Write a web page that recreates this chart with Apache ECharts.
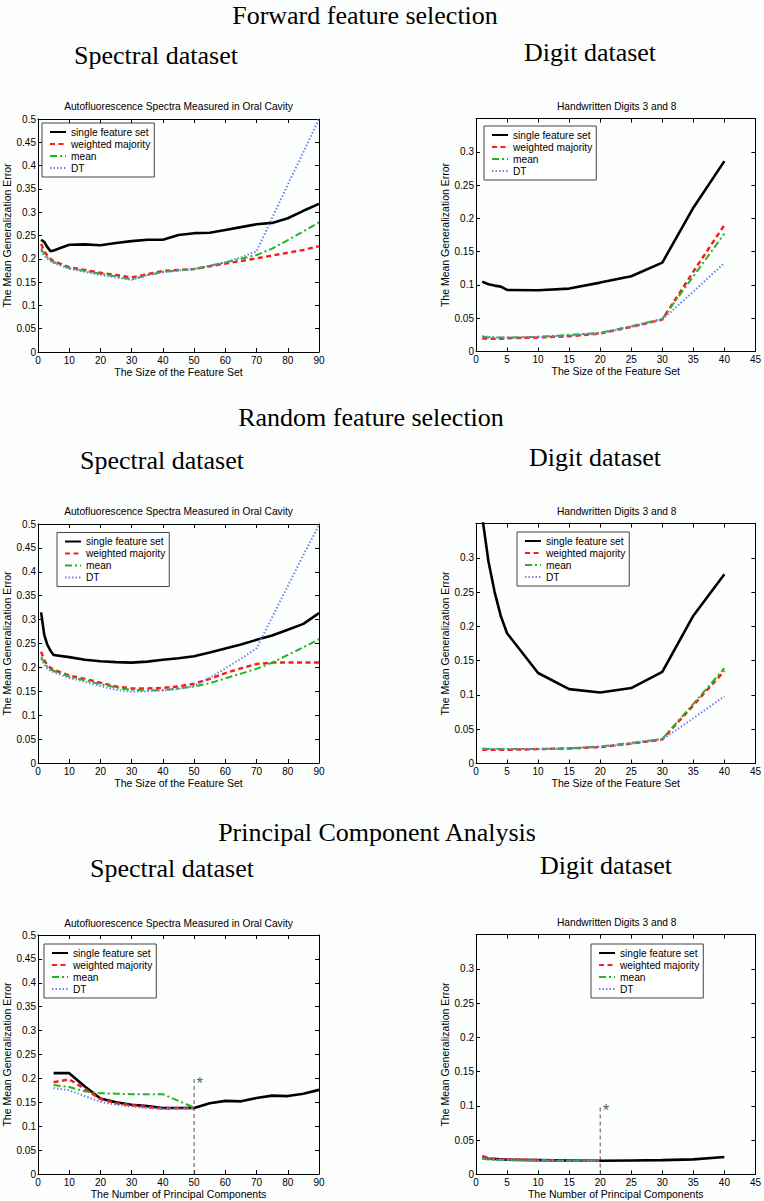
<!DOCTYPE html>
<html><head><meta charset="utf-8">
<script src="https://cdn.jsdelivr.net/npm/echarts@6/dist/echarts.min.js"></script>
<style>html,body{margin:0;padding:0;background:#fcfdfd}#c{width:764px;height:1201px}</style>
</head><body><div id="c"></div><script>
// ---------- DATA ----------
const seriesNames = ['single feature set', 'weighted majority', 'mean', 'DT'];

// Forward feature selection – Spectral dataset
const fwdSpecX        = [1,2,3,4,5,10,15,20,25,30,35,40,45,50,55,60,65,70,75,80,85,90];
const fwdSpecSingle   = [0.241,0.236,0.225,0.216,0.218,0.230,0.231,0.229,0.234,0.238,0.241,0.241,0.251,0.255,0.256,0.262,0.268,0.274,0.277,0.287,0.303,0.318];
const fwdSpecWeighted = [0.232,0.216,0.207,0.200,0.195,0.182,0.176,0.170,0.165,0.160,0.167,0.174,0.176,0.178,0.184,0.190,0.195,0.201,0.207,0.213,0.219,0.227];
const fwdSpecMean     = [0.222,0.210,0.203,0.197,0.193,0.180,0.174,0.168,0.162,0.156,0.165,0.172,0.175,0.178,0.185,0.192,0.200,0.208,0.222,0.240,0.259,0.278];
const fwdSpecDT       = [0.218,0.207,0.200,0.195,0.191,0.179,0.172,0.165,0.160,0.155,0.165,0.171,0.175,0.178,0.185,0.193,0.203,0.216,0.288,0.359,0.429,0.500];

// Forward feature selection – Digit dataset
const fwdDigX        = [1,2,3,4,5,10,15,20,25,30,35,40];
const fwdDigSingle   = [0.105,0.101,0.099,0.0975,0.0925,0.092,0.0945,0.1035,0.113,0.1335,0.216,0.286];
const fwdDigWeighted = [0.020,0.019,0.019,0.019,0.020,0.021,0.023,0.027,0.037,0.048,0.120,0.190];
const fwdDigMean     = [0.022,0.021,0.021,0.021,0.021,0.022,0.025,0.028,0.038,0.049,0.113,0.177];
const fwdDigDT       = [0.023,0.022,0.021,0.021,0.021,0.022,0.024,0.027,0.037,0.048,0.090,0.133];

// Random feature selection – Spectral dataset
const rndSpecX        = [1,2,3,4,5,10,15,20,25,30,35,40,45,50,55,60,65,70,75,80,85,90];
const rndSpecSingle   = [0.315,0.268,0.247,0.235,0.226,0.2215,0.216,0.213,0.211,0.210,0.212,0.216,0.219,0.2235,0.231,0.2396,0.248,0.2577,0.2667,0.2786,0.291,0.3134];
const rndSpecWeighted = [0.233,0.215,0.205,0.199,0.195,0.183,0.176,0.168,0.160,0.156,0.156,0.157,0.160,0.166,0.176,0.188,0.198,0.207,0.210,0.210,0.210,0.210];
const rndSpecMean     = [0.222,0.210,0.201,0.196,0.193,0.181,0.173,0.165,0.158,0.153,0.152,0.152,0.156,0.160,0.167,0.177,0.187,0.197,0.210,0.226,0.242,0.259];
const rndSpecDT       = [0.218,0.206,0.198,0.193,0.190,0.178,0.170,0.161,0.153,0.149,0.150,0.152,0.155,0.161,0.178,0.198,0.218,0.240,0.305,0.370,0.435,0.498];

// Random feature selection – Digit dataset
const rndDigX        = [1,2,3,4,5,10,15,20,25,30,35,40];
const rndDigSingle   = [0.36,0.295,0.25,0.215,0.190,0.132,0.1085,0.1035,0.110,0.1335,0.2155,0.276];
const rndDigWeighted = [0.020,0.020,0.020,0.020,0.020,0.021,0.022,0.024,0.029,0.035,0.085,0.135];
const rndDigMean     = [0.022,0.021,0.021,0.021,0.021,0.021,0.022,0.025,0.030,0.036,0.087,0.139];
const rndDigDT       = [0.021,0.021,0.021,0.021,0.021,0.021,0.022,0.024,0.029,0.035,0.066,0.098];

// PCA – Spectral dataset
const pcaSpecXSingle  = [5,10,15,20,25,30,35,40,45,50,55,60,65,70,75,80,85,90];
const pcaSpecXOther   = [5,10,15,20,25,30,35,40,45,50];
const pcaSpecSingle   = [0.211,0.211,0.183,0.158,0.150,0.145,0.142,0.138,0.138,0.138,0.148,0.153,0.152,0.159,0.164,0.163,0.168,0.176];
const pcaSpecWeighted = [0.192,0.198,0.178,0.157,0.148,0.144,0.140,0.137,0.138,0.138];
const pcaSpecMean     = [0.186,0.182,0.173,0.169,0.168,0.167,0.167,0.167,0.153,0.139];
const pcaSpecDT       = [0.180,0.175,0.163,0.151,0.145,0.141,0.138,0.136,0.136,0.137];
const pcaSpecMarker   = [50, 0.2];

// PCA – Digit dataset
const pcaDigXSingle  = [1,2,3,4,5,10,15,20,25,30,35,40];
const pcaDigXOther   = [1,2,3,4,5,10,15,20];
const pcaDigSingle   = [0.025,0.023,0.0225,0.022,0.0215,0.021,0.0205,0.020,0.0205,0.021,0.022,0.0255];
const pcaDigWeighted = [0.027,0.024,0.023,0.022,0.022,0.021,0.020,0.020];
const pcaDigMean     = [0.023,0.022,0.0215,0.021,0.021,0.0205,0.020,0.020];
const pcaDigDT       = [0.024,0.0225,0.022,0.021,0.021,0.0205,0.020,0.020];
const pcaDigMarker   = [20, 0.1];

// Text
const sectionTitles = ['Forward feature selection', 'Random feature selection', 'Principal Component Analysis'];
const datasetTitles = ['Spectral dataset', 'Digit dataset'];
const panelTitles = ['Autofluorescence Spectra Measured in Oral Cavity', 'Handwritten Digits 3 and 8'];
const xNameSize = 'The Size of the Feature Set';
const xNamePCA = 'The Number of Principal Components';
const yName = 'The Mean Generalization Error';

// ---------- LAYOUT ----------
const SANS = '"Liberation Sans", Arial, sans-serif';
const SERIF = '"Liberation Serif", "Times New Roman", serif';
const styles = [
  {color:'#000000', width:2.6, type:'solid'},
  {color:'#ff1a1a', width:2.5, type:[5,3.5]},
  {color:'#22b422', width:2, type:[7,3,2,3]},
  {color:'#7381e8', width:2, type:[1.5,2]}
];

const panels = [
  {grid:{left:38,top:119,width:281,height:233}, xMax:90, xInt:10, yMax:0.5, xName:xNameSize, title:panelTitles[0], titleY:106, leg:[42,123],
   xs:[fwdSpecX,fwdSpecX,fwdSpecX,fwdSpecX], ys:[fwdSpecSingle,fwdSpecWeighted,fwdSpecMean,fwdSpecDT]},
  {grid:{left:476,top:118.5,width:281.5,height:233}, xMax:45, xInt:5, yMax:0.35, xName:xNameSize, title:panelTitles[1], titleY:106.5, leg:[484,126],
   xs:[fwdDigX,fwdDigX,fwdDigX,fwdDigX], ys:[fwdDigSingle,fwdDigWeighted,fwdDigMean,fwdDigDT]},
  {grid:{left:38,top:524,width:281,height:239}, xMax:90, xInt:10, yMax:0.5, xName:xNameSize, title:panelTitles[0], titleY:511.5, leg:[57,532.5],
   xs:[rndSpecX,rndSpecX,rndSpecX,rndSpecX], ys:[rndSpecSingle,rndSpecWeighted,rndSpecMean,rndSpecDT]},
  {grid:{left:476,top:523.5,width:281.5,height:240}, xMax:45, xInt:5, yMax:0.35, xName:xNameSize, title:panelTitles[1], titleY:511.5, leg:[517,532],
   xs:[rndDigX,rndDigX,rndDigX,rndDigX], ys:[rndDigSingle,rndDigWeighted,rndDigMean,rndDigDT]},
  {grid:{left:38,top:935,width:281,height:239}, xMax:90, xInt:10, yMax:0.5, xName:xNamePCA, title:panelTitles[0], titleY:923, leg:[44,944],
   xs:[pcaSpecXSingle,pcaSpecXOther,pcaSpecXOther,pcaSpecXOther], ys:[pcaSpecSingle,pcaSpecWeighted,pcaSpecMean,pcaSpecDT], marker:pcaSpecMarker},
  {grid:{left:476,top:934.5,width:281.5,height:240}, xMax:45, xInt:5, yMax:0.35, xName:xNamePCA, title:panelTitles[1], titleY:922.5, leg:[591,944],
   xs:[pcaDigXSingle,pcaDigXOther,pcaDigXOther,pcaDigXOther], ys:[pcaDigSingle,pcaDigWeighted,pcaDigMean,pcaDigDT], marker:pcaDigMarker}
];

const headings = [
  {text:sectionTitles[0], x:365, y:15}, {text:datasetTitles[0], x:156, y:55}, {text:datasetTitles[1], x:590, y:52},
  {text:sectionTitles[1], x:371, y:417}, {text:datasetTitles[0], x:162, y:460}, {text:datasetTitles[1], x:595, y:457},
  {text:sectionTitles[2], x:377, y:832}, {text:datasetTitles[0], x:172, y:868}, {text:datasetTitles[1], x:606, y:865}
];

// ---------- BUILD ----------
const grid = [], xAxis = [], yAxis = [], series = [], legend = [], graphic = [];
const tick = {show:true, inside:true, length:4, lineStyle:{color:'#000', width:1}};
const line = {show:true, onZero:false, lineStyle:{color:'#000', width:1}};

panels.forEach((p, i) => {
  grid.push(Object.assign({containLabel:false, show:true, backgroundColor:'#fdfefe', borderWidth:0}, p.grid));
  const fmtY = v => (p.yMax < 0.4 && v > 0.33) ? '' : String(Math.round(v*100)/100);
  xAxis.push({type:'value', gridIndex:i, position:'bottom', min:0, max:p.xMax, interval:p.xInt,
    axisLine:line, axisTick:tick, splitLine:{show:false},
    axisLabel:{fontSize:10, color:'#000', margin:3, fontFamily:SANS},
    name:p.xName, nameLocation:'middle', nameGap:14, nameTextStyle:{fontSize:10.5, color:'#000', fontFamily:SANS}});
  xAxis.push({type:'value', gridIndex:i, position:'top', min:0, max:p.xMax, interval:p.xInt,
    axisLine:line, axisTick:tick, splitLine:{show:false}, axisLabel:{show:false}});
  yAxis.push({type:'value', gridIndex:i, position:'left', min:0, max:p.yMax, interval:0.05,
    axisLine:line, axisTick:tick, splitLine:{show:false},
    axisLabel:{fontSize:10, color:'#000', margin:2, fontFamily:SANS, formatter:fmtY},
    name:yName, nameLocation:'middle', nameGap:22, nameTextStyle:{fontSize:10.5, color:'#000', fontFamily:SANS}});
  yAxis.push({type:'value', gridIndex:i, position:'right', min:0, max:p.yMax, interval:0.05,
    axisLine:line, axisTick:tick, splitLine:{show:false}, axisLabel:{show:false}});

  seriesNames.forEach((name, k) => {
    series.push({type:'line', name, xAxisIndex:2*i, yAxisIndex:2*i, showSymbol:false, symbol:'none',
      animation:false, silent:true, z:2+k, clip:true,
      lineStyle:styles[k], itemStyle:{color:styles[k].color},
      data:p.xs[k].map((x, j) => [x, p.ys[k][j]])});
  });
  if (p.marker) {
    series.push({type:'line', name:'cutoff', xAxisIndex:2*i, yAxisIndex:2*i, showSymbol:false, symbol:'none',
      animation:false, silent:true, z:1,
      lineStyle:{color:'#555', width:1, type:[4,3]},
      data:[[p.marker[0], 0], [p.marker[0], p.marker[1]]]});
    series.push({type:'scatter', name:'star', xAxisIndex:2*i, yAxisIndex:2*i, animation:false, silent:true,
      symbolSize:1, itemStyle:{color:'rgba(0,0,0,0)'},
      label:{show:true, formatter:'*', position:'right', distance:2, offset:[0,5], fontSize:17, color:'#333', fontFamily:SANS},
      data:[[p.marker[0], p.marker[1]]]});
  }
  legend.push({orient:'vertical', left:p.leg[0], top:p.leg[1], data:seriesNames.slice(), selectedMode:false,
    itemWidth:16, itemHeight:8, itemGap:2, padding:[4,4,4,7],
    borderColor:'#444', borderWidth:1, backgroundColor:'#ffffff',
    itemStyle:{color:'rgba(0,0,0,0)', borderColor:'rgba(0,0,0,0)', borderWidth:0},
    textStyle:{fontSize:10.2, color:'#000', lineHeight:10, fontFamily:SANS}});
  graphic.push({type:'text', x:p.grid.left + p.grid.width/2, y:p.titleY, silent:true,
    style:{text:p.title, align:'center', verticalAlign:'middle', fontSize:10.2, fontFamily:SANS, fill:'#000'}});
});

headings.forEach(h => graphic.push({type:'text', x:h.x, y:h.y, silent:true,
  style:{text:h.text, align:'center', verticalAlign:'middle', fontSize:26, fontFamily:SERIF, fill:'#000'}}));

const chart = echarts.init(document.getElementById('c'), null, {renderer:'svg', width:764, height:1201});
chart.setOption({backgroundColor:'#fcfdfd', animation:false, grid, xAxis, yAxis, series, legend, graphic});
</script></body></html>
